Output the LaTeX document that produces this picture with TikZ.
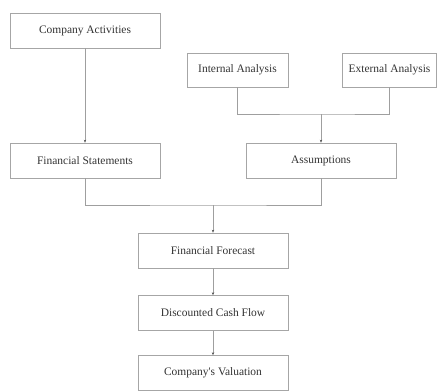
\documentclass[tikz,border=0pt]{standalone}
\usepackage{fontspec}
\setmainfont{Liberation Serif}
\usepackage{tikz}
\usetikzlibrary{
  arrows.meta,
  positioning
}
\tikzset{
  flow/.style = {
    draw=gray!75,
    line width=0.6pt
  },
  flowarrow/.style = {
    flow,
    -{Stealth[length=3pt, width=2.4pt, black!70]}
  }
}

\begin{document}
\begin{tikzpicture}[
    x=1bp,
    y=-1bp,
    every node/.style={
        rectangle,
        draw=gray!70,
        line width=0.6pt,
        minimum width=150bp,
        minimum height=35bp,
        inner sep=0pt,
        text=black!80,
        font=\fontsize{11.5}{13}\selectfont
    }
]

    \useasboundingbox (0,0) rectangle (437,390);

    % Left branch
    \node (act) at (85,30.5) {Company Activities};
    \node (fin) at (85,160.5) {Financial Statements};

    % Analysis boxes
    \node[minimum width=101bp, minimum height=34bp] (intl) at (237.5,70) {Internal Analysis};
    \node[minimum width=94bp, minimum height=34bp] (extl) at (389.5,70) {External Analysis};
    \node (asm) at (321,160.5) {Assumptions};

    % Main chain
    \node (fcst) at (213,250.5) {Financial Forecast};
    \node (dcf) at (213,313) {Discounted Cash Flow};
    \node (val) at (213,373) {Company\textquotesingle s Valuation};

    % Junction points
    \coordinate (jasm) at (321,114);
    \coordinate (jfcst) at (213,205);

    % Connections
    \draw[flowarrow] (act) -- (fin);

    \draw[flow] (intl.south) |- (jasm) -| (extl.south);
    \draw[flowarrow] (jasm) -- (asm);

    \draw[flow] (fin.south) |- (jfcst) -| (asm.south);
    \draw[flowarrow] (jfcst) -- (fcst);

    \draw[flowarrow] (fcst) -- (dcf);
    \draw[flowarrow] (dcf) -- (val);

\end{tikzpicture}
\end{document}
